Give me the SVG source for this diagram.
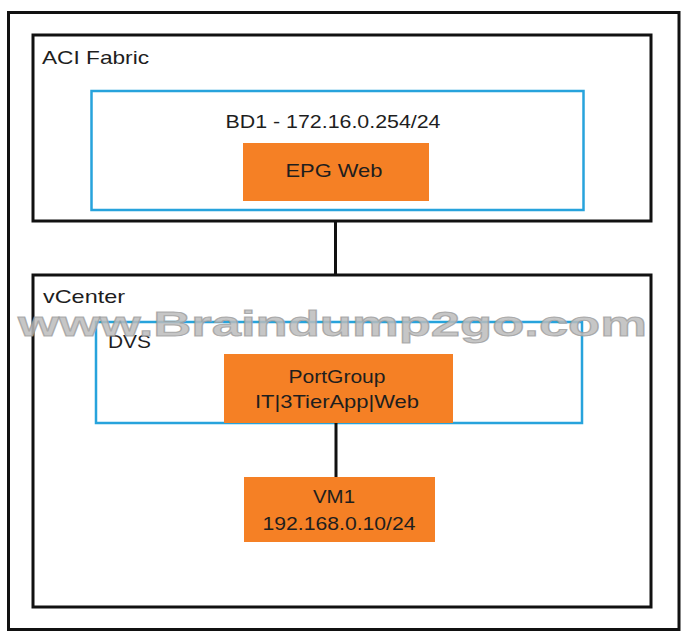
<svg xmlns="http://www.w3.org/2000/svg" width="683" height="639" viewBox="0 0 683 639">
<style>
.frame{fill:none;stroke:#111;stroke-width:3}
.blue{fill:none;stroke:#27a3dc;stroke-width:2.5}
.orange{fill:#f58025;stroke:none}
.lbl{font-family:"Liberation Sans",Arial,sans-serif;font-size:18.5px;fill:#1e1e1e}
.mid{text-anchor:middle}
.conn{stroke:#111;stroke-width:3;fill:none}
.wm{font-family:"Liberation Sans",Arial,sans-serif;font-weight:bold;font-size:35px;fill:#bcbcbc;fill-opacity:0.85;stroke:#9c9c9c;stroke-width:1;stroke-opacity:0.8}
</style>
<rect width="683" height="639" fill="#fff"/>
<g id="outer"><rect class="frame" x="8.5" y="12.5" width="670.5" height="617"/></g>
<g id="aci-fabric">
<rect class="frame" x="33" y="35" width="618" height="186"/>
<text class="lbl" x="42" y="64" textLength="107" lengthAdjust="spacingAndGlyphs">ACI Fabric</text>
</g>
<g id="bd1">
<rect class="blue" x="91.5" y="91" width="492" height="119"/>
<text class="lbl mid" x="333" y="127.5" textLength="215" lengthAdjust="spacingAndGlyphs">BD1 - 172.16.0.254/24</text>
</g>
<g id="epg-web">
<rect class="orange" x="243" y="143" width="186" height="58"/>
<text class="lbl mid" x="334" y="177" textLength="97" lengthAdjust="spacingAndGlyphs">EPG Web</text>
</g>
<g id="vcenter">
<rect class="frame" x="33" y="275" width="618" height="332"/>
<text class="lbl" x="43" y="303" textLength="82" lengthAdjust="spacingAndGlyphs">vCenter</text>
</g>
<g id="dvs">
<rect class="blue" x="96" y="322" width="486" height="101"/>
<text class="lbl" x="108" y="348" textLength="43" lengthAdjust="spacingAndGlyphs">DVS</text>
</g>
<g id="portgroup">
<rect class="orange" x="224" y="354" width="229" height="69"/>
<text class="lbl mid" x="337" y="383" textLength="97" lengthAdjust="spacingAndGlyphs">PortGroup</text>
<text class="lbl mid" x="337" y="408" textLength="164" lengthAdjust="spacingAndGlyphs">IT|3TierApp|Web</text>
</g>
<g id="vm1">
<rect class="orange" x="244" y="477" width="191" height="65"/>
<text class="lbl mid" x="334" y="503" textLength="42" lengthAdjust="spacingAndGlyphs">VM1</text>
<text class="lbl mid" x="339" y="530" textLength="153" lengthAdjust="spacingAndGlyphs">192.168.0.10/24</text>
</g>
<g id="connectors">
<line class="conn" x1="335.5" y1="221" x2="335.5" y2="275"/>
<line class="conn" x1="336" y1="423" x2="336" y2="477"/>
</g>
<g id="watermark">
<text class="wm" x="18" y="335.5" textLength="629" lengthAdjust="spacingAndGlyphs">www.Braindump2go.com</text>
</g>
</svg>
